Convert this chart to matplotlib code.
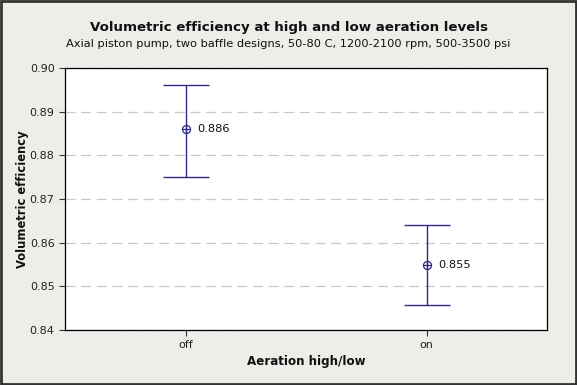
import matplotlib
matplotlib.use("Agg")
import matplotlib.pyplot as plt
from matplotlib.patches import Rectangle

categories = ["off", "on"]
means = [0.886, 0.855]
lower = [0.8751, 0.8458]
upper = [0.8961, 0.8641]
mean_labels = ["0.886", "0.855"]
yticks = [0.84, 0.85, 0.86, 0.87, 0.88, 0.89, 0.90]

plt.rcParams['font.family'] = ['DejaVu Sans']
bg = "#EFEDE9"
navy = "#2E2A86"

fig = plt.figure(figsize=(5.77, 3.85), dpi=100, facecolor=bg)
ax = fig.add_axes([65/577, 1 - 330/385, (547-65)/577, (330-68)/385])
ax.set_facecolor("white")

x = list(range(1, len(categories) + 1))
yerr = [[m - l for m, l in zip(means, lower)], [u - m for m, u in zip(means, upper)]]
ax.errorbar(x, means, yerr=yerr, fmt='none', ecolor=navy, elinewidth=1.0,
            capsize=16.5, capthick=1.0, zorder=3)
ax.plot(x, means, linestyle='none', marker='o', markersize=5.8, markerfacecolor='none',
        markeredgecolor=navy, markeredgewidth=0.9, zorder=4)
ax.plot(x, means, linestyle='none', marker='+', markersize=5.8,
        markeredgecolor=navy, markeredgewidth=0.9, zorder=4)
for xi, m, lab in zip(x, means, mean_labels):
    ax.annotate(lab, (xi, m), xytext=(8.5, 0), textcoords='offset points',
                va='center', ha='left', fontsize=8.2, color='#111111')

ax.set_xlim(0.5, 2.5)
ax.set_ylim(0.84, 0.90)
ax.set_xticks(x)
ax.set_xticklabels(categories, fontsize=8)
ax.set_yticks(yticks)
ax.set_yticklabels([f"{t:.2f}" for t in yticks], fontsize=8)
ax.tick_params(axis='both', direction='out', length=4, width=0.8, color='#333333',
               labelcolor='#222222')
for sp in ax.spines.values():
    sp.set_color('black')
    sp.set_linewidth(0.9)
ax.yaxis.grid(True, linestyle=(0, (8, 4.5)), color='#C8C8C8', linewidth=0.9)
ax.set_axisbelow(True)

ax.set_xlabel("Aeration high/low", fontsize=8.6, fontweight='bold', color='#111111',
              va='center')
ax.xaxis.set_label_coords(0.5, -(362 - 330) / 262)
ax.set_ylabel("Volumetric efficiency", fontsize=8.3, fontweight='bold', color='#111111',
              va='center')
ax.yaxis.set_label_coords(-(65 - 23) / 482, 0.5)

fig.text(0.5, 1 - 27/385, "Volumetric efficiency at high and low aeration levels",
         ha='center', va='center', fontsize=9.6, fontweight='bold', color='#111111')
fig.text(0.5, 1 - 44/385, "Axial piston pump, two baffle designs, 50-80 C, 1200-2100 rpm, 500-3500 psi",
         ha='center', va='center', fontsize=8.2, color='#111111')

fig.patches.append(Rectangle((0.002, 0.003), 0.996, 0.994, transform=fig.transFigure,
                             fill=False, edgecolor='#333333', linewidth=2.0))

fig.savefig("out.png", dpi=100, facecolor=bg)
